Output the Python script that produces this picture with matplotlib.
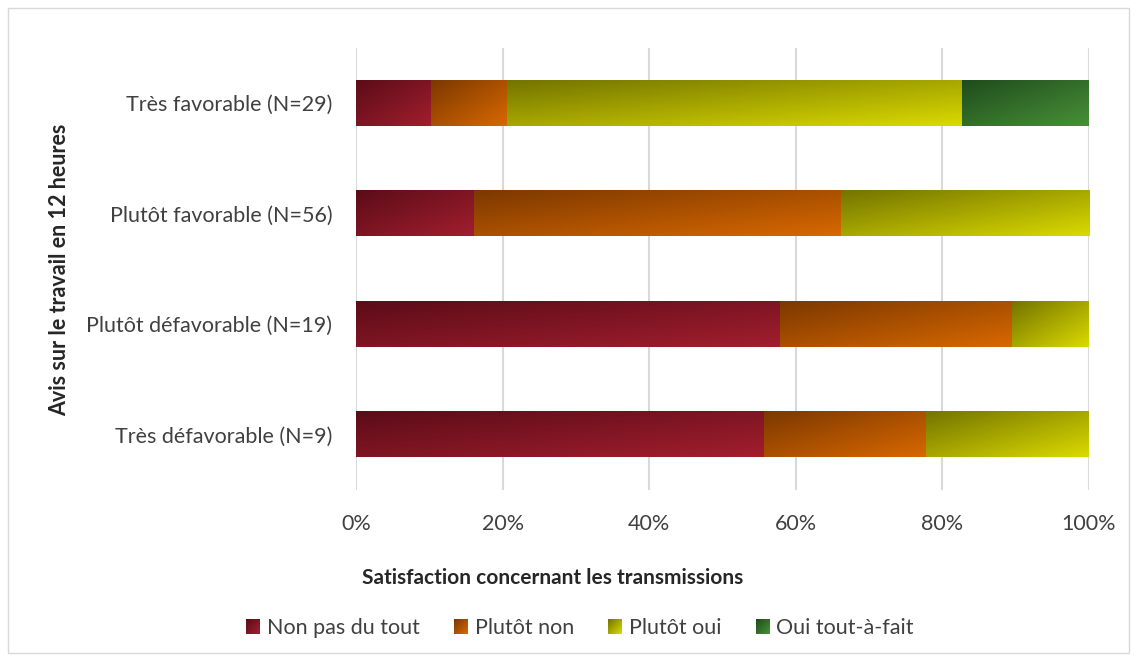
import numpy as np
import matplotlib.pyplot as plt
from matplotlib.colors import to_rgb
from matplotlib.patches import Rectangle
from matplotlib.image import BboxImage
from matplotlib.transforms import Bbox, TransformedBbox
from matplotlib.legend_handler import HandlerBase
from matplotlib.ticker import PercentFormatter

plt.rcParams['font.family'] = ['Lato', 'DejaVu Sans']

# data (share of respondents, %)
categories = ['Très défavorable (N=9)', 'Plutôt défavorable (N=19)',
              'Plutôt favorable (N=56)', 'Très favorable (N=29)']
series = ['Non pas du tout', 'Plutôt non', 'Plutôt oui', 'Oui tout-à-fait']
non_pas = [55.6, 57.9, 16.1, 10.3]
plutot_non = [22.2, 31.6, 50.0, 10.3]
plutot_oui = [22.2, 10.5, 33.9, 62.1]
oui_tout = [0.0, 0.0, 0.0, 17.2]

# gradient colours: (dark top-left, light bottom-right)
grads = [('#5c0c18', '#a21e2e'),
         ('#7c3800', '#d86800'),
         ('#747400', '#dada00'),
         ('#1f4c1c', '#489038')]


def grad_img(c0, c1, nx=64, ny=64):
    u = np.linspace(0, 1, nx)[None, :]
    v = np.linspace(0, 1, ny)[:, None]
    t = (u + v) / 2
    a, b = np.array(to_rgb(c0)), np.array(to_rgb(c1))
    return a + (b - a) * t[..., None]


class GradHandler(HandlerBase):
    def __init__(self, cols):
        super().__init__()
        self.cols = cols

    def create_artists(self, legend, orig_handle, xdescent, ydescent,
                       width, height, fontsize, trans):
        bb = TransformedBbox(Bbox.from_bounds(-xdescent, -ydescent, width, height), trans)
        im = BboxImage(bb, interpolation='bilinear')
        im.set_data(grad_img(*self.cols, 16, 16))
        return [im]


fs = 15.5
fig = plt.figure(figsize=(11.37, 6.61), dpi=100)
ax = fig.add_axes([356 / 1137, 1 - 490 / 661, (1089 - 356) / 1137, 442 / 661])

values = [non_pas, plutot_non, plutot_oui, oui_tout]
bar_h = 0.41
ypos = np.arange(len(categories))
left = np.zeros(len(categories))
handles = []
for vals, cols, name in zip(values, grads, series):
    for y, l, w in zip(ypos, left, vals):
        if w <= 0:
            continue
        ax.imshow(grad_img(*cols), extent=(l, l + w, y - bar_h / 2, y + bar_h / 2),
                  origin='upper', aspect='auto', interpolation='bilinear', zorder=2)
    left = left + np.array(vals)
    h = Rectangle((0, 0), 1, 1, label=name)
    handles.append(h)

ax.set_xlim(0, 100)
ax.set_ylim(-0.5, len(categories) - 0.5)
ax.set_yticks(ypos)
ax.set_yticklabels(categories, fontsize=fs, color='#404040')
ax.set_xticks(np.arange(0, 101, 20))
ax.xaxis.set_major_formatter(PercentFormatter(decimals=0))
ax.tick_params(axis='x', labelsize=fs, labelcolor='#404040', length=0, pad=17)
ax.tick_params(axis='y', length=0, pad=17)
ax.grid(axis='x', color='#d9d9d9', linewidth=1.5, zorder=0)
ax.set_axisbelow(True)
for s in ax.spines.values():
    s.set_visible(False)

fig.text(553 / 1137, 1 - 578 / 661, 'Satisfaction concernant les transmissions',
         ha='center', va='center', fontsize=15, fontweight='bold', color='#262626')
fig.text(60 / 1137, 1 - 270 / 661, 'Avis sur le travail en 12 heures', rotation=90,
         ha='center', va='center', fontsize=15.5, fontweight='bold', color='#262626')

hmap = {h: GradHandler(c) for h, c in zip(handles, grads)}
leg = fig.legend(handles=handles, labels=series, handler_map=hmap, loc='center',
                 bbox_to_anchor=(580 / 1137, 1 - 628 / 661), ncol=4, frameon=False,
                 fontsize=fs, handlelength=0.65, handleheight=0.65,
                 handletextpad=0.3, columnspacing=1.6)
for t in leg.get_texts():
    t.set_color('#404040')

fig.add_artist(Rectangle((8 / 1137, 8 / 661), 1 - 16 / 1137, 1 - 16 / 661,
                         transform=fig.transFigure, fill=False,
                         edgecolor='#d9d9d9', linewidth=1))

fig.savefig('out.png', dpi=100, facecolor='white')
